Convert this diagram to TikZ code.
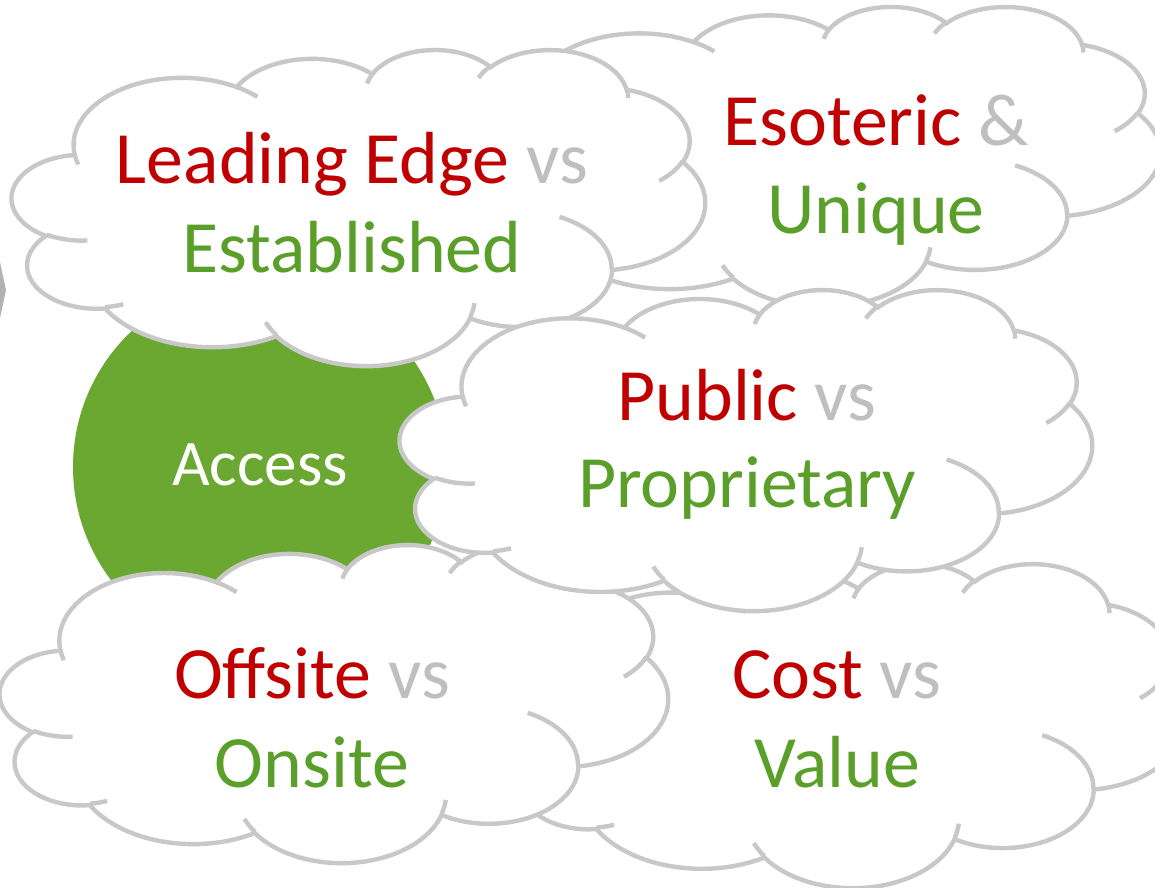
\documentclass[tikz,border=0pt]{standalone}
\usepackage{fontspec}
\setmainfont{Carlito}
\usepackage{tikz}

\definecolor{cloudgray}{HTML}{C8C8C8}
\definecolor{accessgreen}{HTML}{6AA832}
\definecolor{txtred}{HTML}{C00000}
\definecolor{txtgreen}{HTML}{5A9F29}
\definecolor{txtgray}{HTML}{BFBFBF}

% one arc of the cloud outline, angles measured as seen (not parametric)
\newcommand{\cloudarc}[4]{arc[x radius=#1, y radius=#2,
  start angle={atan2((#1)*sin(#3),(#2)*cos(#3))},
  delta angle={mod(atan2((#1)*sin((#3)+(#4)),(#2)*cos((#3)+(#4)))-atan2((#1)*sin(#3),(#2)*cos(#3))+720,360)}]}

% cloud in a box: left, top, width, height (units of 1/432 of the box inside)
\newcommand{\thoughtcloud}[4]{%
  \begin{scope}[shift={(#1,#2)}, xscale=#3/432, yscale=#4/432]
    \filldraw[cloudline, fill=white] (39.00,143.70)
      \cloudarc{67.53}{91.90}{-190.4875}{123.7805}
      \cloudarc{53.33}{72.67}{-144.1024}{89.9452}
      \cloudarc{43.65}{59.45}{-145.8079}{99.7230}
      \cloudarc{48.57}{65.95}{-130.9861}{117.2417}
      \cloudarc{53.33}{72.73}{-78.7089}{109.0269}
      \cloudarc{67.75}{92.20}{-46.2673}{130.2690}
      \cloudarc{57.85}{78.67}{0.6250}{114.0333}
      \cloudarc{67.52}{92.15}{22.4516}{115.1726}
      \cloudarc{77.20}{105.43}{66.2426}{75.7110}
      \cloudarc{43.60}{59.18}{-274.9421}{146.7356}
      \cloudarc{43.45}{59.45}{-246.8285}{152.5189} -- cycle;
    %inner puff lines
    \draw[cloudline]
      (46.93,261.77) \cloudarc{43.45}{59.45}{86.7420}{26.4295}
      (69.28,348.99) \cloudarc{43.60}{59.18}{73.6105}{11.4475}
      (164.78,390.90) \cloudarc{67.52}{92.15}{137.6242}{14.0811}
      (288.27,347.51) \cloudarc{67.52}{92.15}{6.4533}{15.9984}
      (341.29,229.54) \cloudarc{57.85}{78.67}{-70.2924}{70.9174}
      (417.98,153.54) \cloudarc{53.33}{72.73}{30.3180}{27.7515}
      (383.24,54.26) \cloudarc{48.57}{65.95}{-13.7443}{14.8589}
      (290.78,39.52) \cloudarc{48.57}{65.95}{-149.1815}{18.1954}
      (221.41,47.20) \cloudarc{43.65}{59.45}{-163.4943}{17.6864}
      (140.00,51.92) \cloudarc{67.53}{91.90}{-66.7070}{12.3194}
      (41.27,157.89) \cloudarc{67.53}{91.90}{157.6544}{11.8582};
  \end{scope}}

\begin{document}
\begin{tikzpicture}[x=0.02cm, y=-0.02cm,
    cloudline/.style={draw=cloudgray, line width=2.5pt},
    bigtxt/.style={anchor=base, inner sep=0pt, font=\fontsize{42}{50}\selectfont}]
  \clip (0,0) rectangle (1155,887);
  \fill[white] (0,0) rectangle (1155,887);

  % arrow tip at the left edge
  \fill[gray!60] (0,262) -- (6,290) -- (0,318) -- cycle;

  \thoughtcloud{470}{6}{690}{300}
  \fill[accessgreen] (260,467) circle (187);
  \node[inner sep=0pt, anchor=base, text=white, font=\fontsize{37}{44}\selectfont] (access) at (260,485) {Access};

  \thoughtcloud{12}{49}{693}{316}
  \thoughtcloud{505}{563}{680}{324}
  \thoughtcloud{0}{544}{668}{318}
  \thoughtcloud{400}{289}{692}{321}

  \node[bigtxt] (lead) at (352,183) {\textcolor{txtred}{Leading Edge} \textcolor{txtgray}{vs}};
  \node[bigtxt, text=txtgreen] (estab) at (352,272) {Established};
  \node[bigtxt] (esot) at (876,145) {\textcolor{txtred}{Esoteric} \textcolor{txtgray}{\&}};
  \node[bigtxt, text=txtgreen] (uniq) at (876,233) {Unique};
  \node[bigtxt] (publ) at (747,420) {\textcolor{txtred}{Public} \textcolor{txtgray}{vs}};
  \node[bigtxt, text=txtgreen] (prop) at (747,507) {Proprietary};
  \node[bigtxt] (offs) at (312,698) {\textcolor{txtred}{Offsite} \textcolor{txtgray}{vs}};
  \node[bigtxt, text=txtgreen] (onsi) at (312,787) {Onsite};
  \node[bigtxt] (cost) at (837,698) {\textcolor{txtred}{Cost} \textcolor{txtgray}{vs}};
  \node[bigtxt, text=txtgreen] (valu) at (837,787) {Value};
\end{tikzpicture}
\end{document}
